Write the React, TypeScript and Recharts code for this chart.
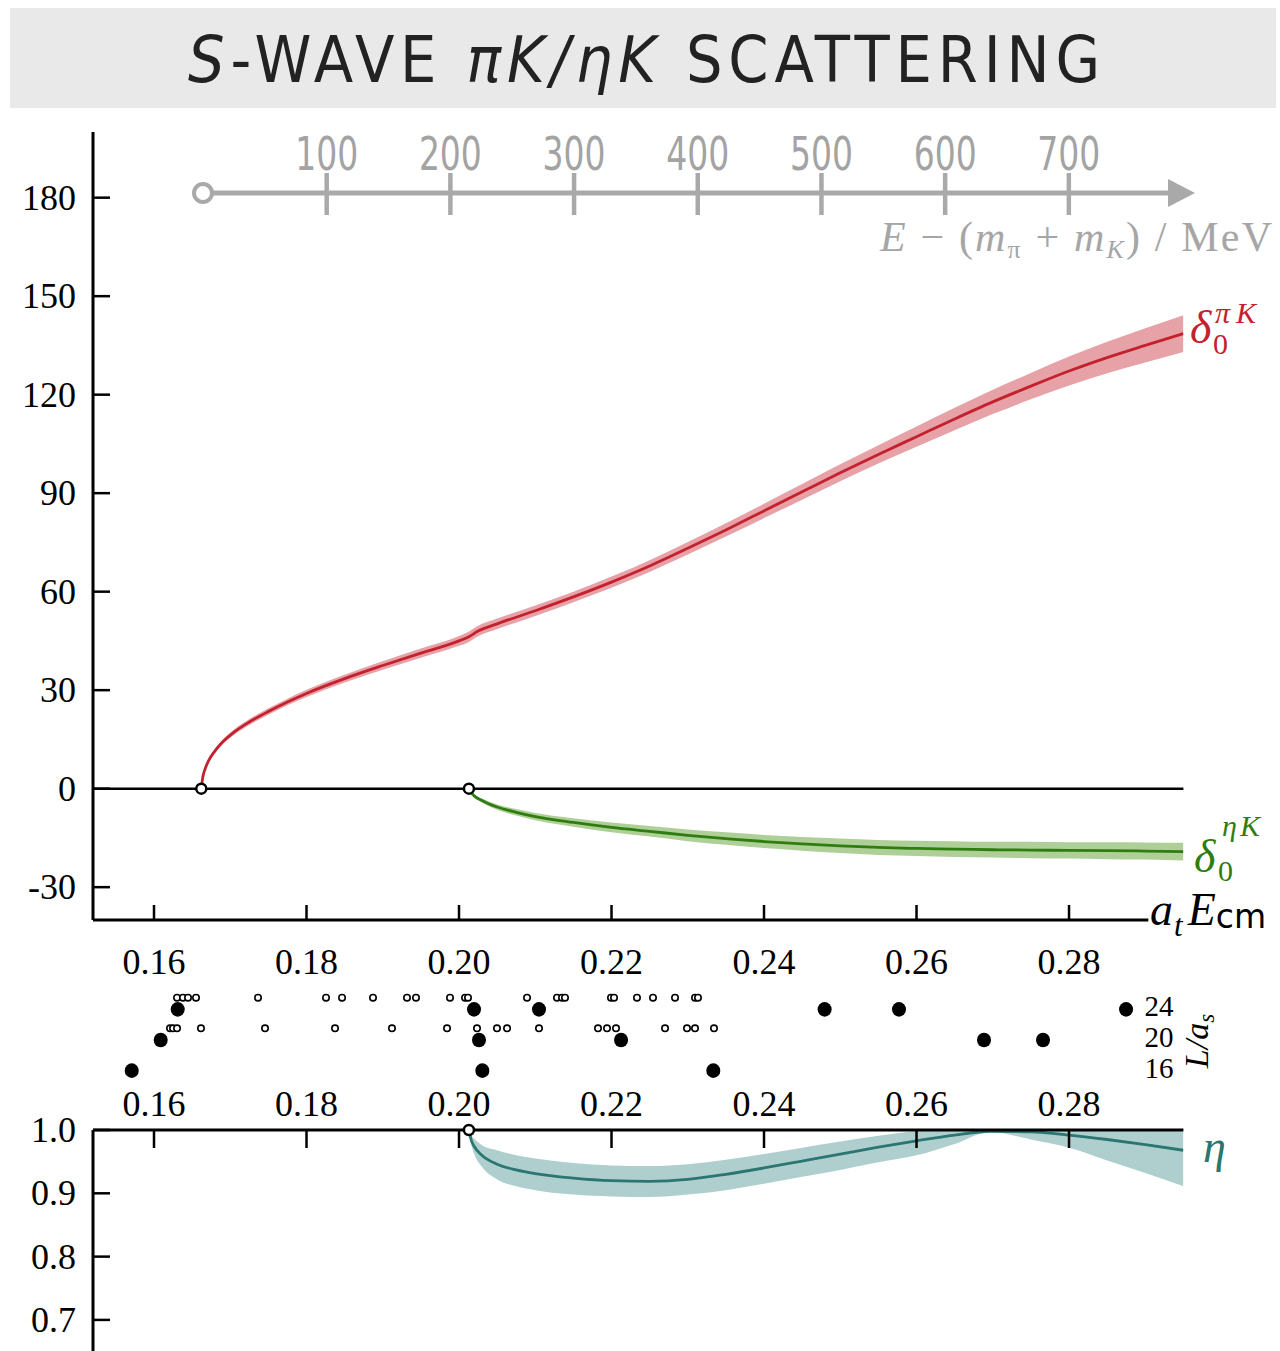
import React from "react";
import {
  ComposedChart,
  ScatterChart,
  Area,
  Line,
  Scatter,
  XAxis,
  YAxis,
  ReferenceLine,
  ReferenceDot,
} from "recharts";

const SERIF = "'Liberation Serif', 'DejaVu Serif', 'Times New Roman', serif";
const NARROW = "'Liberation Sans Narrow', 'DejaVu Sans Condensed', 'Liberation Sans', sans-serif";
const SANS = "'DejaVu Sans', 'Liberation Sans', sans-serif";

// thresholds in a_t E_cm
const piKThreshold = 0.1662;
const etaKThreshold = 0.2013;

// axis ticks
const energyTicks = [0.16, 0.18, 0.2, 0.22, 0.24, 0.26, 0.28];
const phaseTicks = [-30, 0, 30, 60, 90, 120, 150, 180];
const inelasticityTicks = [0.7, 0.8, 0.9, 1.0];
const mevTicks = [100, 200, 300, 400, 500, 600, 700];
const volumeTicks = [16, 20, 24];

// axis ranges
const energyDomain: [number, number] = [0.152, 0.295];
const phaseDomain: [number, number] = [-40, 200];
const inelasticityDomain: [number, number] = [0.6509, 1];
const mevDomain: [number, number] = [0, 802];
const volumeDomain: [number, number] = [14, 26];

// MeV axis: open circle at threshold, shaft, arrow tip at the end
const mevAxisShaft = [0, 785];
const mevAxisStart = [0];
const mevAxisTip = [802];

// pi K phase shift (degrees)
const piKEnergy = [
  0.1662, 0.1664, 0.1667, 0.1672, 0.168, 0.169, 0.1705, 0.1725, 0.175, 0.1775, 0.18, 0.185,
  0.19, 0.195, 0.2, 0.2013, 0.2025, 0.205, 0.21, 0.215, 0.22, 0.225, 0.23, 0.235, 0.24, 0.245,
  0.25, 0.255, 0.26, 0.265, 0.27, 0.275, 0.28, 0.285, 0.29, 0.295,
];
const piKPhase = [
  0, 3.5, 6.0, 8.7, 11.5, 14.2, 17.2, 20.3, 23.5, 26.4, 29.0, 33.5, 37.5, 41.3, 45.0, 46.3,
  48.0, 50.2, 54.2, 58.4, 62.9, 67.8, 73.2, 78.8, 84.6, 90.4, 96.2, 101.8, 107.2, 112.6, 117.8,
  122.6, 127.2, 131.3, 135, 138.6,
];
const piKError = [
  0, 0.3, 0.4, 0.5, 0.6, 0.7, 0.8, 0.9, 1, 1, 1.1, 1.2, 1.3, 1.4, 1.5, 1.6, 1.6, 1.6, 1.6, 1.6,
  1.7, 1.8, 1.9, 2.0, 2.2, 2.4, 2.6, 2.8, 3.1, 3.4, 3.7, 4.0, 4.4, 4.8, 5.2, 5.6,
];

// eta K phase shift (degrees)
const etaKEnergy = [
  0.2013, 0.2016, 0.202, 0.203, 0.205, 0.2075, 0.21, 0.215, 0.22, 0.225, 0.23, 0.235, 0.24,
  0.245, 0.25, 0.255, 0.26, 0.265, 0.27, 0.275, 0.28, 0.285, 0.29, 0.295,
];
const etaKPhase = [
  0, -1.2, -2.2, -3.6, -5.6, -7.2, -8.5, -10.3, -11.8, -13.0, -14.2, -15.2, -16.1, -16.8, -17.4,
  -17.9, -18.2, -18.4, -18.6, -18.7, -18.8, -18.9, -19.0, -19.2,
];
const etaKError = [
  0, 0.3, 0.4, 0.6, 0.8, 1.0, 1.1, 1.3, 1.5, 1.6, 1.8, 1.9, 2.0, 2.1, 2.2, 2.3, 2.3, 2.4, 2.4,
  2.5, 2.5, 2.6, 2.6, 2.7,
];

// inelasticity eta
const inelEnergy = [
  0.2013, 0.2016, 0.202, 0.203, 0.205, 0.2075, 0.21, 0.215, 0.22, 0.225, 0.23, 0.235, 0.24,
  0.245, 0.25, 0.255, 0.26, 0.265, 0.2697, 0.275, 0.28, 0.285, 0.29, 0.295,
];
const inelCentral = [
  1, 0.984, 0.974, 0.96, 0.946, 0.937, 0.931, 0.924, 0.92, 0.919, 0.922, 0.93, 0.94, 0.951,
  0.962, 0.973, 0.983, 0.992, 0.998, 0.997, 0.992, 0.985, 0.977, 0.968,
];
const inelLower = [
  1, 0.978, 0.962, 0.942, 0.922, 0.911, 0.905, 0.898, 0.895, 0.894, 0.898, 0.905, 0.915, 0.926,
  0.937, 0.949, 0.96, 0.978, 0.997, 0.985, 0.972, 0.952, 0.932, 0.911,
];
const inelUpper = [
  1, 0.992, 0.986, 0.976, 0.968, 0.96, 0.955, 0.948, 0.944, 0.943, 0.946, 0.953, 0.962, 0.972,
  0.982, 0.991, 0.998, 1.0, 1.0, 1.0, 1.0, 0.999, 0.999, 0.998,
];

// finite-volume energy levels (a_t E_cm) per L/a_s
const levelsUsed24 = [0.16311, 0.20197, 0.21049, 0.24795, 0.2577, 0.28748];
const levelsUsed20 = [0.16088, 0.20262, 0.22125, 0.26885, 0.27659];
const levelsUsed16 = [0.15708, 0.20306, 0.23335];
const levelsOther24 = [
  0.16302, 0.1638, 0.16446, 0.16551, 0.17364, 0.18256, 0.18466, 0.18872, 0.19318, 0.19436,
  0.19882, 0.20079, 0.20118, 0.20892, 0.21285, 0.21351, 0.2139, 0.21993, 0.22033, 0.22334,
  0.22544, 0.22833, 0.23095, 0.23134,
];
const levelsOther20 = [
  0.1621, 0.16249, 0.16302, 0.16616, 0.17456, 0.18374, 0.19121, 0.19843, 0.20236, 0.20498,
  0.2063, 0.21049, 0.21823, 0.21941, 0.22059, 0.22702, 0.2299, 0.23095, 0.23344,
];

const RED = "#c4212e";
const RED_BAND = "#e7a2a8";
const GREEN = "#2f7d10";
const GREEN_BAND = "#afcf98";
const TEAL = "#2b7572";
const TEAL_BAND = "#abcccb";
const GREY = "#a9a9a9";

const piKData = piKEnergy.map((x, i) => ({
  x,
  phase: piKPhase[i],
  band: [piKPhase[i] - piKError[i], piKPhase[i] + piKError[i]],
}));
const etaKData = etaKEnergy.map((x, i) => ({
  x,
  phase: etaKPhase[i],
  band: [etaKPhase[i] - etaKError[i], etaKPhase[i] + etaKError[i]],
}));
const inelData = inelEnergy.map((x, i) => ({
  x,
  eta: inelCentral[i],
  band: [inelLower[i], inelUpper[i]],
}));
const toLevels = (xs: number[], L: number) => xs.map((x) => ({ x, L }));
const onMevAxis = (xs: number[]) => xs.map((mev) => ({ mev, level: 1 }));

type TickProps = { x?: number; y?: number; payload?: { value: number } };

const PhaseTick = ({ x = 0, y = 0, payload }: TickProps) => (
  <g>
    <line x1={x} x2={x + 17} y1={y} y2={y} stroke="#000" strokeWidth={2.5} />
    <text x={x - 17} y={y + 12} textAnchor="end" fontFamily={SERIF} fontSize={36} fill="#000">
      {payload ? String(payload.value) : ""}
    </text>
  </g>
);

const EnergyBottomTick = ({ x = 0, y = 0, payload }: TickProps) => (
  <g>
    <line x1={x} x2={x} y1={y} y2={y - 15} stroke="#000" strokeWidth={2.5} />
    <text x={x} y={y + 54} textAnchor="middle" fontFamily={SERIF} fontSize={36} fill="#000">
      {payload ? payload.value.toFixed(2) : ""}
    </text>
  </g>
);

const EnergyTopTick = ({ x = 0, y = 0, payload }: TickProps) => (
  <g>
    <line x1={x} x2={x} y1={y} y2={y + 18} stroke="#000" strokeWidth={2.5} />
    <text x={x} y={y - 14} textAnchor="middle" fontFamily={SERIF} fontSize={36} fill="#000">
      {payload ? payload.value.toFixed(2) : ""}
    </text>
  </g>
);

const InelTick = ({ x = 0, y = 0, payload }: TickProps) => (
  <g>
    <line x1={x} x2={x + 17} y1={y} y2={y} stroke="#000" strokeWidth={2.5} />
    <text x={x - 17} y={y + 12} textAnchor="end" fontFamily={SERIF} fontSize={36} fill="#000">
      {payload ? payload.value.toFixed(1) : ""}
    </text>
  </g>
);

const MevTick = ({ x = 0, y = 0, payload }: TickProps) => (
  <g>
    <line x1={x} x2={x} y1={y - 20} y2={y + 22} stroke={GREY} strokeWidth={4.5} />
    <text
      x={x}
      y={y - 23}
      textAnchor="middle"
      fontFamily={NARROW}
      fontSize={46}
      fill="#a3a3a3"
      textLength={63}
      lengthAdjust="spacingAndGlyphs"
    >
      {payload ? String(payload.value) : ""}
    </text>
  </g>
);

const VolumeTick = ({ x = 0, y = 0, payload }: TickProps) => (
  <text x={x - 39} y={y + 7} textAnchor="start" fontFamily={SERIF} fontSize={29} fill="#000">
    {payload ? String(payload.value) : ""}
  </text>
);

const UsedLevel = (p: any) => <ellipse cx={p.cx} cy={p.cy} rx={7} ry={7.3} fill="#000" />;
const OtherLevel = (p: any) => (
  <circle cx={p.cx} cy={p.cy - 11.7} r={3.2} fill="#fff" stroke="#000" strokeWidth={1.6} />
);
const ThresholdDot = (p: any) => (
  <circle cx={p.cx} cy={p.cy} r={5} fill="#fff" stroke="#000" strokeWidth={2.5} />
);
const MevStart = (p: any) => (
  <circle cx={p.cx} cy={p.cy} r={9} fill="#fff" stroke={GREY} strokeWidth={4} />
);
const ArrowHead = (p: any) => (
  <polygon
    points={`${p.cx},${p.cy} ${p.cx - 27},${p.cy - 14} ${p.cx - 27},${p.cy + 14}`}
    fill={GREY}
  />
);

export default function App() {
  return (
    <div
      style={{
        position: "absolute",
        left: 0,
        top: 0,
        width: 1280,
        height: 1351,
        overflow: "hidden",
        background: "#fff",
      }}
    >
      {/* title banner */}
      <div
        style={{
          position: "absolute",
          left: 10,
          top: 8,
          width: 1266,
          height: 100,
          background: "#e9e9e9",
        }}
      />
      <svg width={1280} height={120} style={{ position: "absolute", left: 0, top: 0 }}>
        <text
          x={188}
          y={82}
          fontFamily={NARROW}
          fontSize={64}
          fill="#222"
          textLength={912}
          lengthAdjust="spacing"
        >
          <tspan fontStyle="italic">S</tspan>
          <tspan>-WAVE </tspan>
          <tspan fontStyle="italic">πK/ηK</tspan>
          <tspan> SCATTERING</tspan>
        </text>
      </svg>

      {/* energy above threshold in MeV */}
      <div style={{ position: "absolute", left: 0, top: 0 }}>
        <ComposedChart
          width={1280}
          height={230}
          margin={{ top: 163, left: 203, right: 85, bottom: 0 }}
        >
          <XAxis
            type="number"
            dataKey="mev"
            orientation="top"
            domain={mevDomain}
            ticks={mevTicks}
            interval={0}
            height={30}
            axisLine={false}
            tickLine={false}
            tickSize={0}
            tickMargin={0}
            tick={MevTick}
          />
          <YAxis type="number" dataKey="level" domain={[0, 1]} hide />
          <Line
            data={onMevAxis(mevAxisShaft)}
            dataKey="level"
            stroke={GREY}
            strokeWidth={5}
            dot={false}
            isAnimationActive={false}
          />
          <Scatter data={onMevAxis(mevAxisStart)} shape={MevStart} isAnimationActive={false} />
          <Scatter data={onMevAxis(mevAxisTip)} shape={ArrowHead} isAnimationActive={false} />
        </ComposedChart>
      </div>

      {/* phase shifts */}
      <div style={{ position: "absolute", left: 0, top: 0 }}>
        <ComposedChart
          width={1280}
          height={1000}
          margin={{ top: 132, right: 96.6, bottom: 30, left: 0 }}
        >
          <XAxis
            type="number"
            dataKey="x"
            domain={energyDomain}
            ticks={energyTicks}
            interval={0}
            allowDataOverflow
            height={50}
            axisLine={false}
            tickLine={false}
            tickSize={0}
            tickMargin={0}
            tick={EnergyBottomTick}
          />
          <YAxis
            type="number"
            domain={phaseDomain}
            ticks={phaseTicks}
            interval={0}
            allowDataOverflow
            width={93}
            axisLine={{ stroke: "#000", strokeWidth: 3 }}
            tickLine={false}
            tickSize={0}
            tickMargin={0}
            tick={PhaseTick}
          />
          <Area
            data={piKData}
            dataKey="band"
            type="monotone"
            stroke="none"
            fill={RED_BAND}
            fillOpacity={1}
            isAnimationActive={false}
          />
          <Area
            data={etaKData}
            dataKey="band"
            type="monotone"
            stroke="none"
            fill={GREEN_BAND}
            fillOpacity={1}
            isAnimationActive={false}
          />
          <Line
            data={piKData}
            dataKey="phase"
            type="monotone"
            stroke={RED}
            strokeWidth={2.8}
            dot={false}
            isAnimationActive={false}
          />
          <Line
            data={etaKData}
            dataKey="phase"
            type="monotone"
            stroke={GREEN}
            strokeWidth={2.8}
            dot={false}
            isAnimationActive={false}
          />
          <ReferenceLine y={0} stroke="#000" strokeWidth={2.5} />
          <ReferenceLine
            segment={[
              { x: energyDomain[0], y: phaseDomain[0] },
              { x: 0.2904, y: phaseDomain[0] },
            ]}
            stroke="#000"
            strokeWidth={3}
          />
          <ReferenceDot x={piKThreshold} y={0} shape={ThresholdDot} />
          <ReferenceDot x={etaKThreshold} y={0} shape={ThresholdDot} />
        </ComposedChart>
      </div>

      {/* finite-volume spectra */}
      <div style={{ position: "absolute", left: 0, top: 985 }}>
        <ScatterChart
          width={1280}
          height={101}
          margin={{ top: 9, right: 95.6, bottom: 0, left: 93 }}
        >
          <XAxis type="number" dataKey="x" domain={energyDomain} allowDataOverflow hide />
          <YAxis
            type="number"
            dataKey="L"
            orientation="right"
            domain={volumeDomain}
            ticks={volumeTicks}
            interval={0}
            width={1}
            axisLine={false}
            tickLine={false}
            tickSize={0}
            tickMargin={0}
            tick={VolumeTick}
          />
          <Scatter data={toLevels(levelsOther24, 24)} shape={OtherLevel} isAnimationActive={false} />
          <Scatter data={toLevels(levelsOther20, 20)} shape={OtherLevel} isAnimationActive={false} />
          <Scatter data={toLevels(levelsUsed24, 24)} shape={UsedLevel} isAnimationActive={false} />
          <Scatter data={toLevels(levelsUsed20, 20)} shape={UsedLevel} isAnimationActive={false} />
          <Scatter data={toLevels(levelsUsed16, 16)} shape={UsedLevel} isAnimationActive={false} />
        </ScatterChart>
      </div>

      {/* inelasticity */}
      <div style={{ position: "absolute", left: 0, top: 1070 }}>
        <ComposedChart
          width={1280}
          height={281}
          margin={{ top: 0, right: 96.6, bottom: 0, left: 0 }}
        >
          <XAxis
            type="number"
            dataKey="x"
            orientation="top"
            domain={energyDomain}
            ticks={energyTicks}
            interval={0}
            allowDataOverflow
            height={60}
            axisLine={{ stroke: "#000", strokeWidth: 3 }}
            tickLine={false}
            tickSize={0}
            tickMargin={0}
            tick={EnergyTopTick}
          />
          <YAxis
            type="number"
            domain={inelasticityDomain}
            ticks={inelasticityTicks}
            interval={0}
            allowDataOverflow
            width={93}
            axisLine={{ stroke: "#000", strokeWidth: 3 }}
            tickLine={false}
            tickSize={0}
            tickMargin={0}
            tick={InelTick}
          />
          <Area
            data={inelData}
            dataKey="band"
            type="monotone"
            stroke="none"
            fill={TEAL_BAND}
            fillOpacity={0.95}
            isAnimationActive={false}
          />
          <Line
            data={inelData}
            dataKey="eta"
            type="monotone"
            stroke={TEAL}
            strokeWidth={2.8}
            dot={false}
            isAnimationActive={false}
          />
          <ReferenceDot x={etaKThreshold} y={1} shape={ThresholdDot} ifOverflow="visible" />
        </ComposedChart>
      </div>

      {/* curve and axis labels */}
      <svg
        width={1280}
        height={1351}
        style={{ position: "absolute", left: 0, top: 0, pointerEvents: "none" }}
      >
        <text
          x={880}
          y={251}
          fontFamily={SERIF}
          fontSize={42}
          fill="#a6a6a6"
          textLength={392}
          lengthAdjust="spacing"
        >
          <tspan fontStyle="italic">E</tspan>
          <tspan> − (</tspan>
          <tspan fontStyle="italic">m</tspan>
          <tspan fontSize={26} dy={7}>π</tspan>
          <tspan dy={-7}> + </tspan>
          <tspan fontStyle="italic">m</tspan>
          <tspan fontSize={26} dy={7} fontStyle="italic">K</tspan>
          <tspan dy={-7}>) / MeV</tspan>
        </text>

        <g fill={RED} fontFamily={SERIF}>
          <text x={1190} y={343} fontSize={46} fontStyle="italic">δ</text>
          <text x={1215} y={323} fontSize={30} fontStyle="italic">π</text>
          <text x={1236} y={323} fontSize={30} fontStyle="italic">K</text>
          <text x={1213} y={354} fontSize={30}>0</text>
        </g>

        <g fill={GREEN} fontFamily={SERIF}>
          <text x={1194} y={872} fontSize={46} fontStyle="italic">δ</text>
          <text x={1222} y={836} fontSize={30} fontStyle="italic">η</text>
          <text x={1240} y={836} fontSize={30} fontStyle="italic">K</text>
          <text x={1218} y={881} fontSize={30}>0</text>
        </g>

        <text x={1150} y={925} fontFamily={SERIF} fontSize={46} fill="#000">
          <tspan fontStyle="italic">a</tspan>
          <tspan fontStyle="italic" fontSize={31} dy={11} dx={1}>t</tspan>
          <tspan fontStyle="italic" dy={-11} dx={5}>E</tspan>
          <tspan fontFamily={SANS} fontSize={33} dy={3}>cm</tspan>
        </text>

        <text
          x={1208}
          y={1041}
          transform="rotate(-90 1208 1041)"
          textAnchor="middle"
          fontFamily={SERIF}
          fontSize={34}
          fontStyle="italic"
          fill="#000"
        >
          L/a<tspan fontSize={23} dy={6}>s</tspan>
        </text>

        <text x={1203} y={1162} fontFamily={SERIF} fontSize={46} fontStyle="italic" fill={TEAL}>
          η
        </text>
      </svg>
    </div>
  );
}
